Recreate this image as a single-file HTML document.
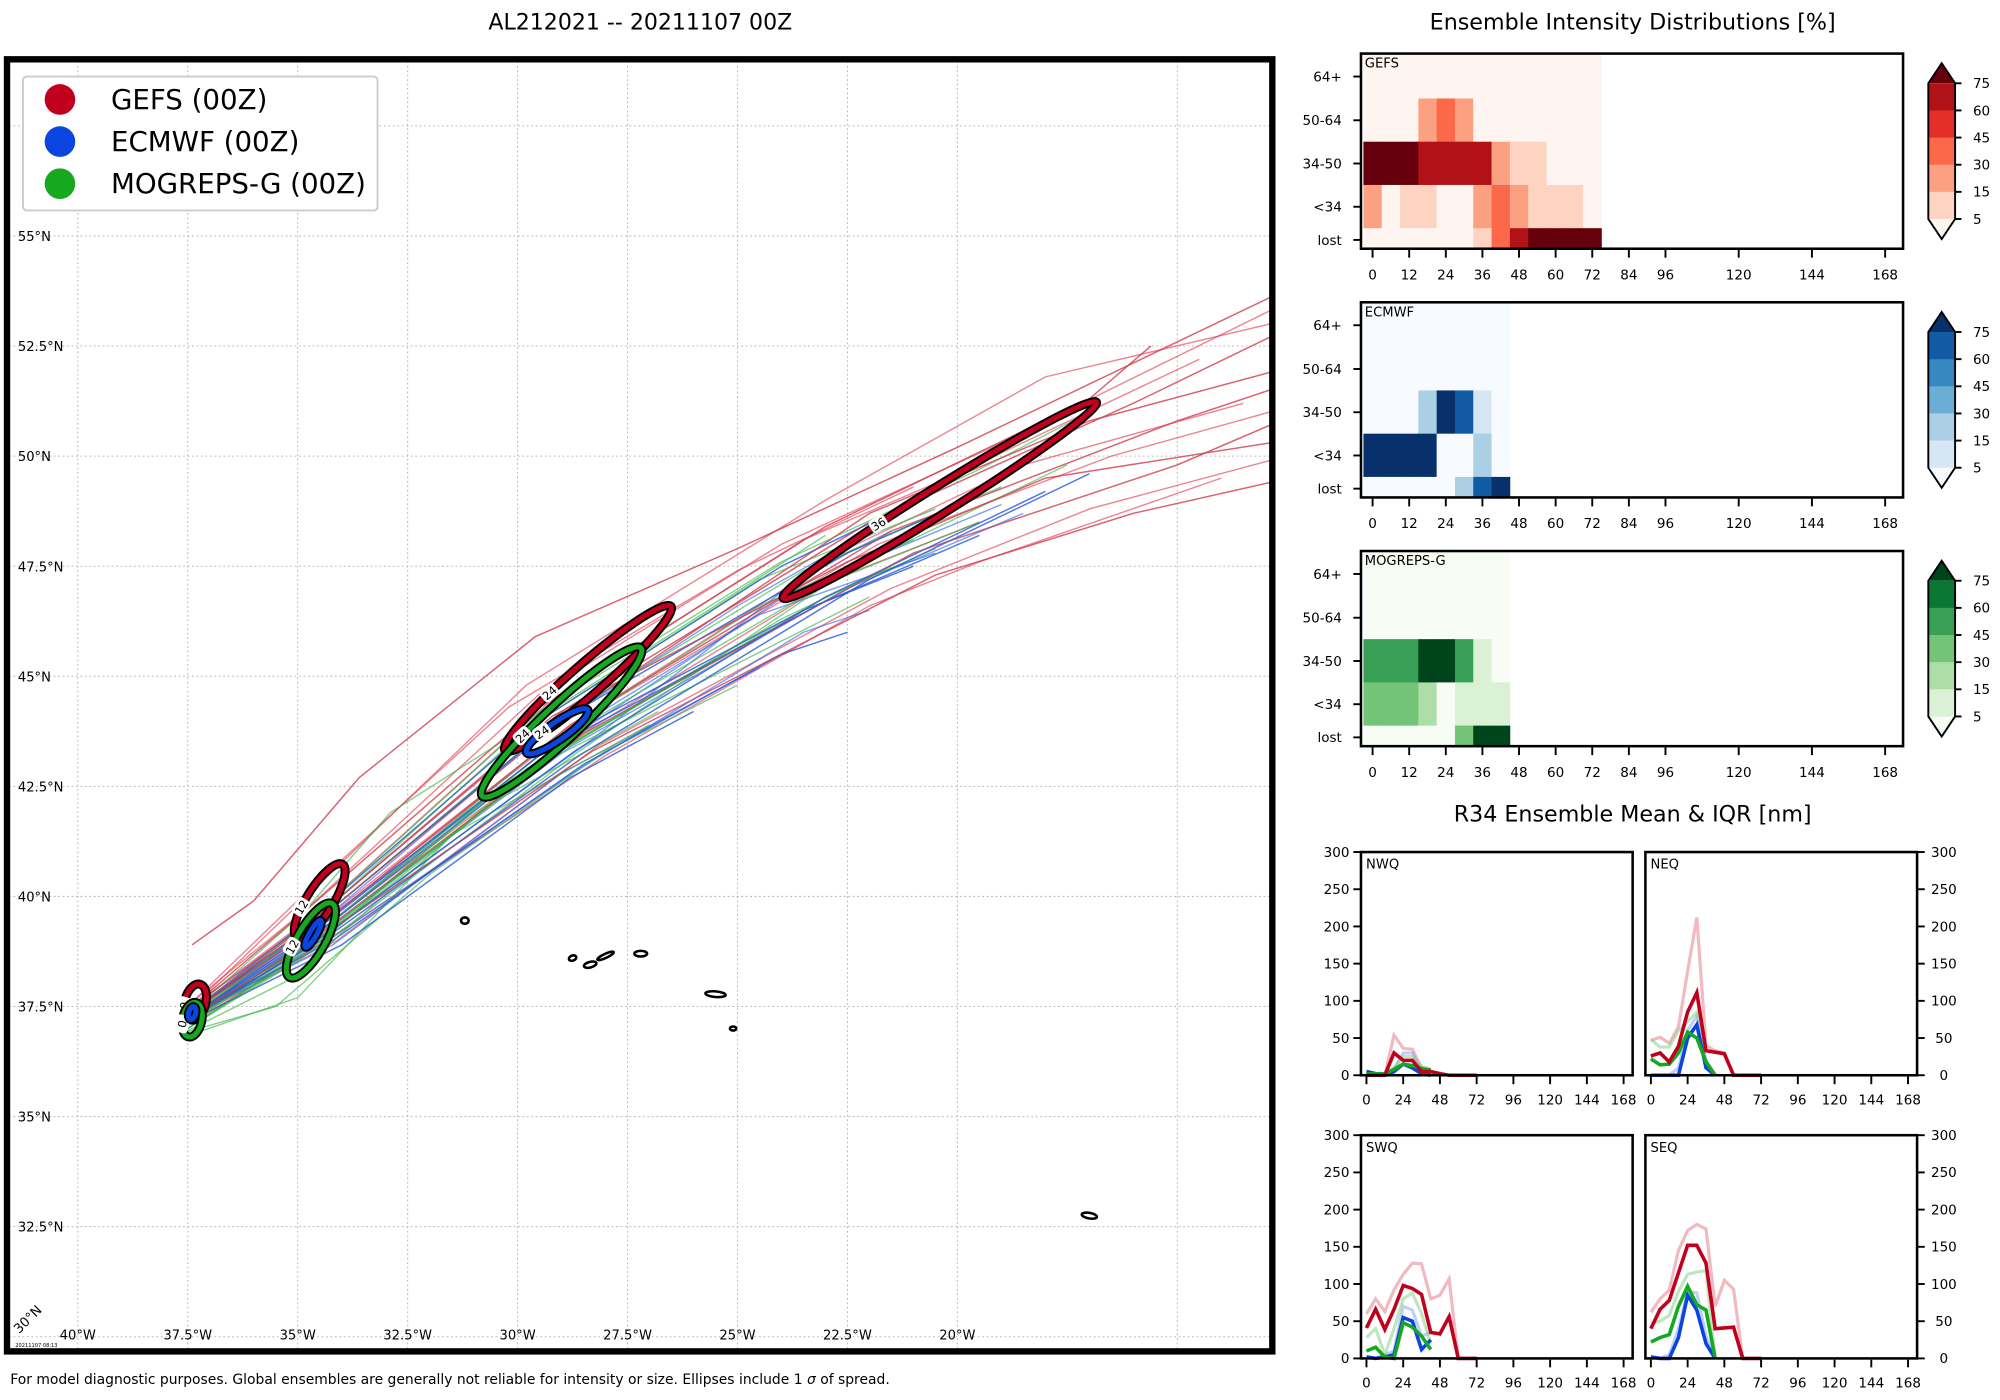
<!DOCTYPE html>
<html><head><meta charset="utf-8"><style>
html,body{margin:0;padding:0;background:#fff;width:2000px;height:1400px;overflow:hidden}
svg{display:block}
text{font-family:"DejaVu Sans","Liberation Sans",sans-serif}
</style></head><body>
<svg id="fig" width="2000" height="1400" viewBox="0 0 1568 1097.6" xmlns="http://www.w3.org/2000/svg">
<defs><clipPath id="mapclip"><rect x="7" y="48" width="989" height="1010"/></clipPath></defs>
<text x="502" y="23" font-size="17.3" text-anchor="middle">AL212021 -- 20211107 00Z</text>
<text x="1280" y="23" font-size="17.4" text-anchor="middle">Ensemble Intensity Distributions [%]</text>
<text x="1280" y="644" font-size="17.4" text-anchor="middle">R34 Ensemble Mean &amp; IQR [nm]</text>
<text x="8" y="1085" font-size="10.9">For model diagnostic purposes. Global ensembles are generally not reliable for intensity or size. Ellipses include 1 <tspan font-style="italic">σ</tspan> of spread.</text>
<g id="map"></g>
<g id="heat"></g>
<g id="r34"></g>
</svg>
<script>
// ---------- MAP DATA ----------
const latTicks=[55,52.5,50,47.5,45,42.5,40,37.5,35,32.5];
const lonTicks=[-40,-37.5,-35,-32.5,-30,-27.5,-25,-22.5,-20];
const gefsTracks=[
[[-37.4,37.5],[-34.5,39.6],[-29,44.2],[-22,48.5],[-16,51.2],[-12.9,52.7]],
[[-37.4,37.4],[-34.4,39.4],[-28.8,43.9],[-21.5,48.3],[-15,50.8],[-12.9,51.5]],
[[-37.3,37.3],[-34.3,39.3],[-28.5,43.7],[-21,47.8],[-15,49.8],[-12.9,50.7]],
[[-37.4,37.5],[-34.8,39.7],[-29.5,44.3],[-23,48.4],[-17,51.3],[-15.6,52.5]],
[[-37.4,37.3],[-34.3,39.2],[-28.3,43.3],[-20.5,47.3],[-16,48.7],[-12.9,49.4]],
[[-37.4,37.4],[-34.5,39.5],[-29,44],[-22,48.7],[-17,50.8],[-12.9,51.9]],
[[-37.4,37.4],[-34.6,39.5],[-29.2,44.1],[-22.5,47.6],[-18,49.5],[-12.9,50.3]],
[[-37.4,38.9],[-36,39.9],[-33.6,42.7],[-29.6,45.9],[-25,47.9],[-20,50.2],[-12.9,53.6]],
[[-37.3,37.2],[-34.2,39.1],[-28,43.2],[-22,46.6],[-19.5,47.6],[-14,49.5]],
[[-37.4,37.6],[-34.7,39.8],[-29.5,44.6],[-24,48],[-19,50.3],[-12.9,53.3]],
[[-37.4,37.4],[-34.5,39.4],[-28.9,43.8],[-22.5,47.9],[-18.5,49.8],[-13.5,51.2]],
[[-37.4,37.5],[-34.6,39.6],[-29.3,44.4],[-23.5,48.1],[-20,49.6],[-14.5,52.2]],
[[-37.4,37.4],[-34.3,39.5],[-28.6,44.0],[-21.8,48.0],[-16.5,50.0],[-12.9,51.0]],
[[-37.4,37.5],[-34.9,39.9],[-29.8,44.8],[-23,49],[-18,51.8],[-12.9,53.0]],
[[-37.3,37.3],[-34.1,39.0],[-28.2,43.4],[-21.5,47.0],[-17,48.8],[-12.9,49.9]],
[[-37.4,37.6],[-34.9,40.0],[-30.2,44.3],[-25,47.4],[-21,49.3]],
[[-37.4,37.4],[-34.4,39.3],[-28.7,43.6],[-22.8,47.2],[-19.5,48.5]]
];
const ecTracks=[
[[-37.4,37.3],[-34.5,39.2],[-29,43.5],[-23,46.7],[-19.5,48.2]],
[[-37.4,37.3],[-34.2,39],[-28.5,43.0],[-24,45.5],[-22.5,46]],
[[-37.4,37.4],[-34.6,39.4],[-29.2,43.9],[-22.5,47.8],[-20,48.9]],
[[-37.3,37.3],[-34.4,39.1],[-28.7,43.3],[-23,46.8],[-18,49.2]],
[[-37.4,37.2],[-34.0,38.9],[-28.8,42.7],[-26,44.2]],
[[-37.4,37.4],[-34.7,39.5],[-29.5,44],[-24,47.5],[-20.5,49.2]],
[[-37.4,37.3],[-34.3,39.1],[-28.6,43.2],[-22,47.2],[-17,49.6]],
[[-37.4,37.3],[-34.5,39.3],[-29.0,43.6],[-23.5,46.5],[-21,47.5]],
[[-37.4,37.3],[-34.4,39.3],[-28.9,43.7],[-24.5,46.4],[-20.5,47.8]],
[[-37.4,37.3],[-34.3,39.2],[-28.4,43.5],[-23.5,47.3],[-21.5,48.3]],
[[-37.4,37.3],[-34.3,39.0],[-28.6,42.9],[-23.5,46.0],[-22,46.5]],
[[-37.4,37.4],[-34.5,39.4],[-29.3,43.8],[-25,46.6],[-22.7,47.9]],
[[-37.4,37.3],[-34.2,38.9],[-29.0,42.8],[-24.5,45.2]],
[[-37.4,37.3],[-34.6,39.3],[-29.1,43.4],[-23.8,46.9],[-19,48.9]],
[[-37.4,37.3],[-34.4,39.2],[-28.8,43.4],[-22.5,47.0],[-18.5,48.7]]
];
const mgTracks=[
[[-37.6,36.8],[-35,37.7],[-31.5,41.4],[-27.0,43.9]],
[[-37.5,37.0],[-34.8,38.8],[-29.5,43.0],[-24,45.8],[-22,46.8]],
[[-37.4,37.1],[-34.3,39.0],[-28.6,43.3],[-22.5,47.4],[-17.5,49.8]],
[[-37.4,37.3],[-34.8,39.4],[-29.5,44.2],[-24,47.6],[-19.5,49.7],[-17,51.0]],
[[-37.5,37.0],[-34.9,38.6],[-30.4,42.5],[-26.5,44.8]],
[[-37.4,37.2],[-34.5,39.2],[-29.0,43.6],[-23,47.1],[-19.5,48.5]],
[[-37.6,36.9],[-35.5,37.5],[-32,40.5],[-28,43.3],[-25,44.8]],
[[-37.4,37.4],[-34.9,39.6],[-32.9,41.9],[-28.8,44.5],[-23,48.2]],
[[-37.4,37.2],[-34.6,39.1],[-29.3,43.5],[-24.5,46.6],[-21,48.1]],
[[-37.5,37.1],[-34.7,38.9],[-29.8,42.9],[-25.5,45.4]],
[[-37.5,37.0],[-34.6,38.9],[-29.2,43.2],[-24.0,46.3],[-21.5,47.5]],
[[-37.4,37.2],[-34.8,39.3],[-29.8,43.8],[-24.5,47.2],[-20.5,48.8]],
[[-37.6,36.9],[-35.2,38.1],[-30.8,42.0],[-26.8,44.2]],
[[-37.4,37.3],[-34.6,39.4],[-29.1,44.0],[-23.5,47.4],[-19,49.3]],
[[-37.5,37.1],[-34.5,39.1],[-28.9,43.4],[-23,46.8],[-20.5,47.9]]
];
// ellipses: [lon, lat, semi-major deg, semi-minor deg, angle deg, label]
const gefsEll=[[-37.33,37.6,0.42,0.24,-75,"0"],[-34.5,39.9,0.98,0.3,-58,"12"],[-28.4,44.95,2.5,0.35,-41,"24"],[-20.4,49.0,4.2,0.3,-32,"36"]];
const ecEll=[[-37.4,37.35,0.15,0.08,-75,""],[-34.65,39.15,0.35,0.08,-60,""],[-29.1,43.75,0.85,0.2,-35,"24"]];
const mgEll=[[-37.4,37.2,0.4,0.22,-78,"0"],[-34.7,39.0,0.97,0.32,-60,"12"],[-29.0,43.96,2.47,0.4,-43,"24"]];
const islands=[[-31.2,39.45,3,2.5,0],[-28.75,38.6,3,2,-20],[-28.35,38.45,5,2.2,-15],[-28.0,38.65,7,1.6,-25],[-27.2,38.7,5,2.2,0],[-25.5,37.78,8,2.2,5],[-25.1,37.0,2.5,1.6,0],[-17.0,32.75,6,2.2,10]];

// ---------- HEATMAP DATA ----------
const hmRows=["64+","50-64","34-50","<34","lost"];
const hmTickHours=[0,12,24,36,48,60,72,84,96,120,144,168];
const gefsHm=[
[2,2,2,2,2,2,2,2,2,2,2,2,2],
[2,2,2,20,35,20,2,2,2,2,2,2,2],
[80,80,80,65,65,65,65,20,10,10,2,2,2],
[20,2,10,10,2,2,20,35,20,10,10,10,2],
[2,2,2,2,2,2,10,35,65,80,80,80,80]];
const ecHm=[
[2,2,2,2,2,2,2,2],
[2,2,2,2,2,2,2,2],
[2,2,2,20,80,65,10,2],
[80,80,80,80,2,2,20,2],
[2,2,2,2,2,20,65,80]];
const mgHm=[
[2,2,2,2,2,2,2,2],
[2,2,2,2,2,2,2,2],
[50,50,50,80,80,50,10,2],
[35,35,35,20,2,10,10,10],
[2,2,2,2,2,35,80,80]];
const cbLevels=[5,15,30,45,60,75];

// ---------- R34 DATA (6-hourly from 0h) ----------
const r34Ticks=[0,24,48,72,96,120,144,168];
const r34YTicks=[0,50,100,150,200,250,300];
const nwqGefsMean=[0,0,0,30,20,20,5,5,2,0,0,0,0];
const nwqGefsUp=[0,0,0,54,36,35,10,5,3,0,0,0,0];
const nwqEcMean=[5,2,0,5,15,10,2,0];
const nwqEcUp=[5,3,0,8,30,30,5,0];
const nwqMgMean=[2,2,2,8,15,13,9,7];
const nwqMgUp=[2,2,2,10,25,25,12,8];
const neqGefsMean=[26,30,18,39,85,111,33,31,29,0,0,0,0];
const neqGefsUp=[47,51,43,65,140,212,40,33,30,0,0,0,0];
const neqEcMean=[0,0,0,0,50,68,10,0];
const neqEcUp=[0,0,0,10,60,80,20,0];
const neqMgMean=[22,14,15,30,58,50,18,0];
const neqMgUp=[48,38,38,60,72,85,10,0];
const swqGefsMean=[41,66,39,66,98,94,86,35,33,56,0,0,0];
const swqGefsUp=[60,80,63,92,113,128,127,80,85,107,0,0,0];
const swqEcMean=[2,0,2,5,55,50,12,25];
const swqEcUp=[2,0,5,10,70,65,30,35];
const swqMgMean=[10,15,2,0,48,42,30,12];
const swqMgUp=[28,40,5,40,80,88,60,20];
const seqGefsMean=[40,66,78,115,152,152,128,40,41,42,0,0,0];
const seqGefsUp=[62,80,92,145,172,180,174,70,105,93,0,0,0];
const seqEcMean=[2,0,0,28,85,65,20,0];
const seqEcUp=[2,0,5,40,90,88,30,0];
const seqMgMean=[22,28,32,70,97,72,65,0];
const seqMgUp=[47,50,58,90,113,116,118,0];

const NS="http://www.w3.org/2000/svg";
function mk(tag,attrs,parent){const e=document.createElementNS(NS,tag);for(const k in attrs)e.setAttribute(k,attrs[k]);parent.appendChild(e);return e;}
const RED="#c0001c",BLUE="#0a45e0",GREEN="#16a81f";

// ---------- MAP ----------
const map=document.getElementById('map');
const px=lon=>61+(lon+40)/2.5*86.2;
const py=lat=>185+(55-lat)/2.5*86.3;
const pxPerDeg=86.2/2.5;
const mg=mk('g',{'clip-path':'url(#mapclip)'},map);
[...lonTicks,-15].forEach(l=>{const ln=mk('line',{x1:px(l),x2:px(l),y1:48,y2:1058,stroke:'#bbb','stroke-width':0.8,'stroke-dasharray':'1.5,2'},mg);

});
[...latTicks,30,57.5].forEach(l=>{const ln=mk('line',{x1:7,x2:996,y1:py(l),y2:py(l),stroke:'#bbb','stroke-width':0.8,'stroke-dasharray':'1.5,2'},mg);

});
islands.forEach(s=>{const e=mk('ellipse',{cx:px(s[0]),cy:py(s[1]),rx:s[2],ry:s[3],transform:`rotate(${s[4]} ${px(s[0])} ${py(s[1])})`,fill:'#fff',stroke:'#000','stroke-width':2},mg);

});
function drawTracks(tracks,color,name,op){tracks.forEach(t=>{const p=mk('polyline',{points:t.map(q=>px(q[0])+','+py(q[1])).join(' '),fill:'none',stroke:color,'stroke-width':1.1,opacity:op},mg);

});}
drawTracks(gefsTracks,'#e0334a','gefs-track',0.6);
drawTracks(ecTracks,'#2a5fe8','ecmwf-track',0.6);
drawTracks(mgTracks,'#2fb33a','mogreps-track',0.6);
drawTracks(ecTracks.slice(0,8),'#1f4fd8','ecmwf-track',0.5);
drawTracks(gefsTracks.slice(0,8),'#c84050','gefs-track',0.5);
function drawEll(list,color,name){list.forEach(e=>{const cx=px(e[0]),cy=py(e[1]),rx=e[2]*pxPerDeg,ry=e[3]*pxPerDeg;
const g=mk('g',{transform:`translate(${cx} ${cy}) rotate(${e[4]})`},mg);


mk('ellipse',{cx:0,cy:0,rx:rx,ry:ry,fill:'none',stroke:'#000','stroke-width':7},g);
mk('ellipse',{cx:0,cy:0,rx:rx,ry:ry,fill:'none',stroke:color,'stroke-width':4},g);
if(e[5]!==""){const lx=-rx*0.35,ly=-ry*0.95;
mk('rect',{x:lx-7,y:ly-5.5,width:14,height:11,rx:3,fill:'#fff'},g);
const t=mk('text',{x:lx,y:ly+3.5,'font-size':9,'text-anchor':'middle'},g);t.textContent=e[5];

}});}
drawEll(gefsEll,RED,'gefs-ellipse');
drawEll(mgEll,GREEN,'mogreps-ellipse');
drawEll(ecEll,BLUE,'ecmwf-ellipse');
latTicks.forEach(l=>{const t=mk('text',{x:14,y:py(l)+4,'font-size':10.3},map);t.textContent=l+'°N';

});
lonTicks.forEach(l=>{const t=mk('text',{x:px(l),y:1050,'font-size':10.3,'text-anchor':'middle'},map);t.textContent=(-l)+'°W';

});
{const t=mk('text',{x:15,y:1046,'font-size':10.3,transform:'rotate(-45 15 1046)'},map);t.textContent='30°N';

}
{const t=mk('text',{x:12,y:1056,'font-size':4},map);t.textContent='20211107 08:13';

}
{const f=mk('rect',{x:5.5,y:46.5,width:992,height:1013,fill:'none',stroke:'#000','stroke-width':5},map);

}
{const lg=mk('g',{},map);


mk('rect',{x:18,y:60,width:278,height:105,rx:3,fill:'#fff',stroke:'#ccc','stroke-width':1.5},lg);
[["GEFS (00Z)",RED,78],["ECMWF (00Z)",BLUE,111],["MOGREPS-G (00Z)",GREEN,144]].forEach(r=>{
const it=mk('g',{},lg);


mk('circle',{cx:47,cy:r[2],r:12,fill:r[1]},it);
const t=mk('text',{x:87,y:r[2]+7.5,'font-size':21.7},it);t.textContent=r[0];});}

// ---------- HEATMAPS ----------
const heat=document.getElementById('heat');
const hx=h=>1076.1+2.392*h;
const rowB=[43.1,77.2,111.1,145.0,178.9,195];
const rowTick=[60,94.3,128.2,162.1,188.1];
function drawHeat(data,colors,name,label,off){
 const g=mk('g',{},heat);
 
 
 data.forEach((row,ri)=>row.forEach((v,ci)=>{const h=ci*6;let lvl=0;cbLevels.forEach(b=>{if(v>=b)lvl++;});
  const c=mk('rect',{x:hx(h-3),y:rowB[ri]+off,width:hx(h+3)-hx(h-3)+0.3,height:rowB[ri+1]-rowB[ri]+0.3,fill:colors[lvl]},g);
  
  }));
 mk('rect',{x:1067,y:42+off,width:425,height:153,fill:'none',stroke:'#000','stroke-width':2},g);
 const lt=mk('text',{x:1070,y:53+off,'font-size':10.3},g);lt.textContent=label;
 hmRows.forEach((r,i)=>{mk('line',{x1:1061,x2:1067,y1:rowTick[i]+off,y2:rowTick[i]+off,stroke:'#000','stroke-width':1.5},g);
  const t=mk('text',{x:1052,y:rowTick[i]+off+3.8,'font-size':10.6,'text-anchor':'end'},g);t.textContent=r;
  
  });
 hmTickHours.forEach(h=>{mk('line',{x1:hx(h),x2:hx(h),y1:196+off,y2:202+off,stroke:'#000','stroke-width':1.5},g);
  const t=mk('text',{x:hx(h),y:219+off,'font-size':10.6,'text-anchor':'middle'},g);t.textContent=h;
  
  });
 const cb=mk('g',{},g);
 
 
 const top=65.3+off,seg=(171.7-65.3)/5,x0=1511.8,x1=1532.8;
 mk('polygon',{points:`${x0},${top} ${(x0+x1)/2},${49.6+off} ${x1},${top}`,fill:colors[6]},cb);
 for(let i=0;i<5;i++)mk('rect',{x:x0,y:top+i*seg,width:x1-x0,height:seg+0.3,fill:colors[5-i]},cb);
 mk('polygon',{points:`${x0},${171.7+off} ${(x0+x1)/2},${187.4+off} ${x1},${171.7+off}`,fill:colors[0]},cb);
 mk('polygon',{points:`${x0},${top} ${(x0+x1)/2},${49.6+off} ${x1},${top} ${x1},${171.7+off} ${(x0+x1)/2},${187.4+off} ${x0},${171.7+off}`,fill:'none',stroke:'#000','stroke-width':1.5},cb);
 cbLevels.slice().reverse().forEach((l,i)=>{const y=top+i*seg;mk('line',{x1:x1,x2:x1+5,y1:y,y2:y,stroke:'#000','stroke-width':1.5},cb);
  const t=mk('text',{x:x1+14,y:y+3.8,'font-size':10.6},cb);t.textContent=l;});
}
drawHeat(gefsHm,['#fff5f0','#fdd4c2','#fca082','#fb694a','#e32f27','#b11218','#67000d'],'gefs','GEFS',0);
drawHeat(ecHm,['#f7fbff','#d6e6f4','#abd0e6','#6aaed6','#3787c0','#105ba4','#08306b'],'ecmwf','ECMWF',195);
drawHeat(mgHm,['#f7fcf5','#dbf1d6','#aedea7','#73c476','#37a055','#0b7734','#00441b'],'mogreps','MOGREPS-G',390);

// ---------- R34 ----------
const r34=document.getElementById('r34');
function drawR34(left,top,label,right,series){
 const g=mk('g',{},r34);
 
 
 const bottom=top+175;
 const X=h=>left+4.3+1.2*h, Y=v=>bottom-v*175/300;
 series.forEach(s=>{const p=mk('polyline',{points:s[0].map((v,i)=>X(i*6)+','+Y(v)).join(' '),fill:'none',stroke:s[1],'stroke-width':s[2],opacity:s[3],'stroke-linejoin':'miter'},g);
  
  });
 mk('rect',{x:left,y:top,width:213,height:175,fill:'none',stroke:'#000','stroke-width':2},g);
 const lt=mk('text',{x:left+4,y:top+13,'font-size':10.3},g);lt.textContent=label;
 r34YTicks.forEach(v=>{const y=Y(v);
  if(right){mk('line',{x1:left+213,x2:left+219,y1:y,y2:y,stroke:'#000','stroke-width':1.5},g);
   const t=mk('text',{x:left+234,y:y+3.8,'font-size':10.6,'text-anchor':'middle'},g);t.textContent=v;}
  else{mk('line',{x1:left-6,x2:left,y1:y,y2:y,stroke:'#000','stroke-width':1.5},g);
   const t=mk('text',{x:left-9,y:y+3.8,'font-size':10.6,'text-anchor':'end'},g);t.textContent=v;}});
 r34Ticks.forEach(h=>{mk('line',{x1:X(h),x2:X(h),y1:bottom+1,y2:bottom+7,stroke:'#000','stroke-width':1.5},g);
  const t=mk('text',{x:X(h),y:bottom+23,'font-size':10.6,'text-anchor':'middle'},g);t.textContent=h;});
}
function ser(gm,gu,em,eu,mm,mu){return [[gu,'#e88a96',2.5,0.6,'gefs-iqr-line'],[eu,'#6f95ef',2.5,0.45,'ecmwf-iqr-line'],[mu,'#7fd07f',2.5,0.5,'mogreps-iqr-line'],
 [em,BLUE,2.8,1,'ecmwf-mean-line'],[mm,GREEN,2.8,1,'mogreps-mean-line'],[gm,RED,2.8,1,'gefs-mean-line']];}
drawR34(1067,668,'NWQ',false,ser(nwqGefsMean,nwqGefsUp,nwqEcMean,nwqEcUp,nwqMgMean,nwqMgUp));
drawR34(1290,668,'NEQ',true,ser(neqGefsMean,neqGefsUp,neqEcMean,neqEcUp,neqMgMean,neqMgUp));
drawR34(1067,890,'SWQ',false,ser(swqGefsMean,swqGefsUp,swqEcMean,swqEcUp,swqMgMean,swqMgUp));
drawR34(1290,890,'SEQ',true,ser(seqGefsMean,seqGefsUp,seqEcMean,seqEcUp,seqMgMean,seqMgUp));
</script>
</body></html>
